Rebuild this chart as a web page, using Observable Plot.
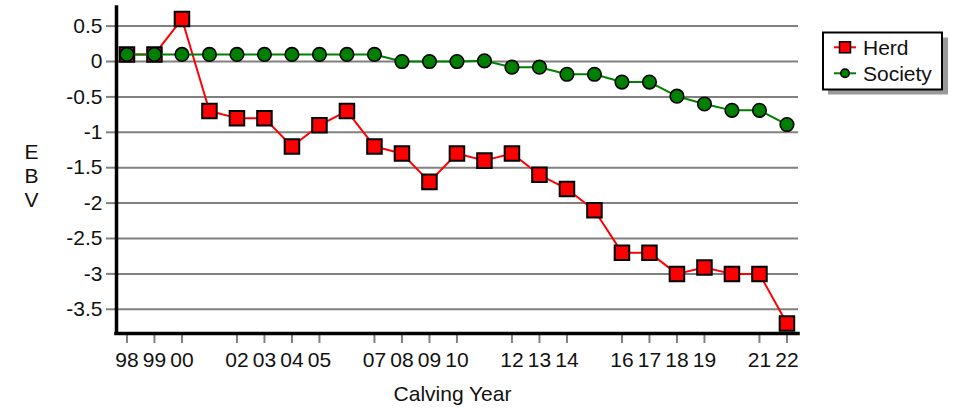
<!DOCTYPE html>
<html>
<head>
<meta charset="utf-8">
<script src="https://cdn.jsdelivr.net/npm/d3@7"></script>
<script src="https://cdn.jsdelivr.net/npm/@observablehq/plot@0.6"></script>
<style>
  html, body { margin: 0; padding: 0; background: #fff; }
  #wrap { position: relative; width: 953px; height: 409px; font-family: "Liberation Sans", Arial, sans-serif; }
  #legend { position: absolute; left: 0; top: 0; }
</style>
</head>
<body>
<div id="wrap"></div>
<script>
// ---- data ----
const years = [1998,1999,2000,2001,2002,2003,2004,2005,2006,2007,2008,2009,2010,2011,2012,2013,2014,2015,2016,2017,2018,2019,2020,2021,2022];
const herd = [0.1,0.1,0.6,-0.7,-0.8,-0.8,-1.2,-0.9,-0.7,-1.2,-1.3,-1.7,-1.3,-1.4,-1.3,-1.6,-1.8,-2.1,-2.7,-2.7,-3.0,-2.91,-3.0,-3.0,-3.7];
const society = [0.1,0.1,0.1,0.1,0.1,0.1,0.1,0.1,0.1,0.1,0.0,0.0,0.0,0.01,-0.08,-0.08,-0.18,-0.18,-0.29,-0.29,-0.49,-0.6,-0.69,-0.69,-0.89];
const xTickYears = [1998,1999,2000,2002,2003,2004,2005,2007,2008,2009,2010,2012,2013,2014,2016,2017,2018,2019,2021,2022];
const xTickLabels = ["98","99","00","02","03","04","05","07","08","09","10","12","13","14","16","17","18","19","21","22"];
const yTicks = [0.5,0,-0.5,-1,-1.5,-2,-2.5,-3,-3.5];
const seriesNames = ["Herd","Society"];
const seriesColors = ["#ff0000","#008000"];

const herdData = years.map((y,i) => ({year: y, value: herd[i]}));
const socData = years.map((y,i) => ({year: y, value: society[i]}));
const xDomain = [1997.62, 2022.42];
const yDomain = [-3.842, 0.763];
const font = "'Liberation Sans', Arial, sans-serif";
const fs = 21;

const chart = Plot.plot({
  width: 953,
  height: 409,
  marginLeft: 116,
  marginRight: 155,
  marginTop: 7,
  marginBottom: 76,
  x: {domain: xDomain},
  y: {domain: yDomain},
  style: {fontFamily: font, fontSize: fs + "px", color: "#111", background: "white"},
  marks: [
    Plot.gridY(yTicks, {stroke: "#808080", strokeOpacity: 1, strokeWidth: 2}),
    Plot.axisY(yTicks, {tickSize: 10, tickPadding: 4, tickFormat: d => String(d), stroke: "#808080", strokeWidth: 2, fontSize: fs, label: null}),
    Plot.axisX(xTickYears, {tickSize: 10, tickPadding: 9, tickFormat: d => xTickLabels[xTickYears.indexOf(d)], stroke: "#808080", strokeWidth: 2, fontSize: fs, label: null}),
    Plot.ruleX([xDomain[0]], {stroke: "black", strokeWidth: 3.5, strokeLinecap: "square"}),
    Plot.ruleY([yDomain[0]], {stroke: "black", strokeWidth: 3.5, strokeLinecap: "square"}),
    Plot.line(herdData, {x: "year", y: "value", stroke: seriesColors[0], strokeWidth: 2}),
    Plot.dot(herdData, {x: "year", y: "value", symbol: "square", r: 8.2, fill: seriesColors[0], stroke: "black", strokeWidth: 2}),
    Plot.line(socData, {x: "year", y: "value", stroke: seriesColors[1], strokeWidth: 2}),
    Plot.dot(socData, {x: "year", y: "value", r: 6.8, fill: seriesColors[1], stroke: "black", strokeWidth: 1.6}),
    Plot.text(["Calving Year"], {text: d => d, frameAnchor: "bottom", dx: -5, dy: 67, fontSize: fs, fill: "#111"}),
    Plot.text(["E\nB\nV"], {text: d => d, frameAnchor: "left", dx: -92, dy: 5, lineHeight: 1.15, fontSize: fs, fill: "#111"})
  ]
});

const wrap = document.getElementById("wrap");
wrap.appendChild(chart);

// ---- legend (overlay) ----
const svg = d3.select(wrap).append("svg")
  .attr("id", "legend").attr("width", 953).attr("height", 409)
  .style("font-family", font).style("font-size", fs + "px");
svg.append("rect").attr("x", 828).attr("y", 37.5).attr("width", 120).attr("height", 57).attr("fill", "#9a9a9a");
svg.append("rect").attr("x", 823).attr("y", 32.5).attr("width", 119).attr("height", 57)
  .attr("fill", "white").attr("stroke", "black").attr("stroke-width", 2);
const rows = [47.3, 73.3];
seriesNames.forEach((name, i) => {
  const g = svg.append("g");
  const cy = rows[i];
  g.append("line").attr("x1", 834).attr("x2", 856).attr("y1", cy).attr("y2", cy)
    .attr("stroke", seriesColors[i]).attr("stroke-width", 2);
  if (i === 0) {
    g.append("rect").attr("x", 839.5).attr("y", cy - 5.5).attr("width", 11).attr("height", 11)
      .attr("fill", seriesColors[i]).attr("stroke", "black").attr("stroke-width", 1.5);
  } else {
    g.append("circle").attr("cx", 845).attr("cy", cy).attr("r", 4.3)
      .attr("fill", seriesColors[i]).attr("stroke", "black").attr("stroke-width", 1.5);
  }
  g.append("text").attr("x", 863).attr("y", cy + 7.4).attr("fill", "#111").text(name);
});
</script>
</body>
</html>
